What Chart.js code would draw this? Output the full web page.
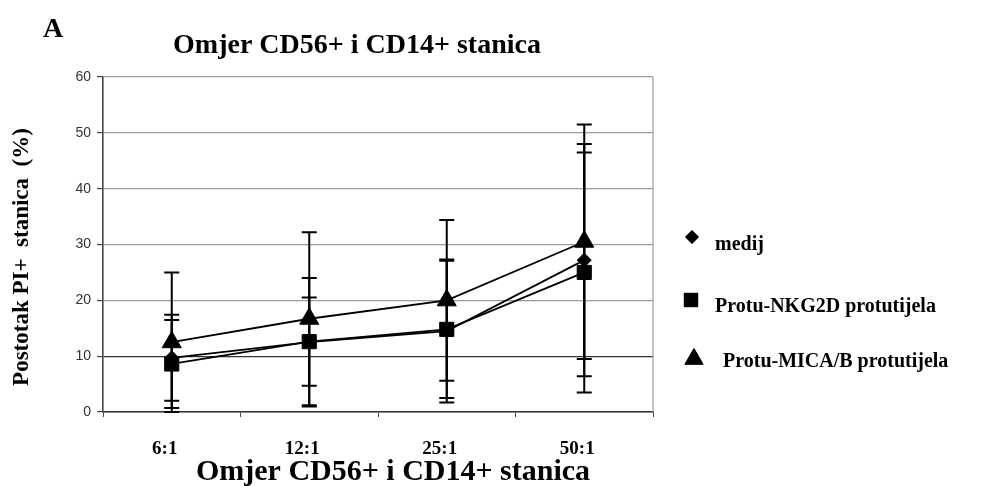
<!DOCTYPE html>
<html>
<head>
<meta charset="utf-8">
<script src="https://cdn.jsdelivr.net/npm/chart.js@4.4.1/dist/chart.umd.min.js"></script>
<style>
  body { margin: 0; background: #fff; }
  canvas { display: block; }
</style>
</head>
<body>
<canvas id="chart" width="981" height="486"></canvas>
<script>
// ratios on the x axis
const categories = ['6:1', '12:1', '25:1', '50:1'];

// mean % of PI+ cells and the error bar size, per series
const medij = [9.7, 12.5, 14.5, 27.2];
const medijErr = [7.7, 11.5, 12.8, 20.8];
const nkg2d = [8.6, 12.6, 14.8, 25.0];
const nkg2dErr = [7.9, 7.9, 12.3, 21.5];
const mica = [12.5, 16.7, 20.0, 30.5];
const micaErr = [12.5, 15.5, 14.4, 21.0];

const yTicks = [0, 10, 20, 30, 40, 50, 60];

const serif = '"Liberation Serif", "Times New Roman", serif';

// error bars (symmetric, with caps)
const errorBars = {
    id: 'errorBars',
    afterDatasetsDraw(chart) {
        const ctx = chart.ctx;
        const x = chart.scales.x, y = chart.scales.y;
        ctx.save();
        ctx.strokeStyle = '#000';
        ctx.lineWidth = 2;
        chart.data.datasets.forEach(ds => {
            ds.data.forEach((v, i) => {
                const px = x.getPixelForValue(i);
                const top = y.getPixelForValue(v + ds.errors[i]);
                const bot = y.getPixelForValue(v - ds.errors[i]);
                ctx.beginPath();
                ctx.moveTo(px, top); ctx.lineTo(px, bot);
                ctx.moveTo(px - 7.5, top); ctx.lineTo(px + 7.5, top);
                ctx.moveTo(px - 7.5, bot); ctx.lineTo(px + 7.5, bot);
                ctx.stroke();
            });
        });
        ctx.restore();
    }
};

// titles and the legend to the right of the plot
const extras = {
    id: 'extras',
    afterDraw(chart) {
        const ctx = chart.ctx;
        const area = chart.chartArea;
        ctx.save();
        ctx.fillStyle = '#000';

        // right border of the plot
        ctx.strokeStyle = '#999';
        ctx.lineWidth = 1.2;
        ctx.beginPath();
        ctx.moveTo(area.right, area.top);
        ctx.lineTo(area.right, area.bottom);
        ctx.stroke();

        ctx.textBaseline = 'alphabetic';
        ctx.textAlign = 'left';
        ctx.font = 'bold 28px ' + serif;
        ctx.fillText('A', 43, 37);

        ctx.textAlign = 'center';
        ctx.fillText('Omjer CD56+ i CD14+ stanica', 357, 53);

        ctx.font = 'bold 30px ' + serif;
        ctx.fillText('Omjer CD56+ i CD14+ stanica', 393, 480);

        ctx.save();
        ctx.translate(22, 257);
        ctx.rotate(-Math.PI / 2);
        ctx.textBaseline = 'middle';
        ctx.font = 'bold 23px ' + serif;
        ctx.fillText('Postotak PI+  stanica  (%)', 0, 0);
        ctx.restore();

        // legend
        const rows = [
            { ds: 0, mx: 692, my: 237, tx: 715, ty: 250 },
            { ds: 1, mx: 691, my: 300, tx: 715, ty: 312 },
            { ds: 2, mx: 694, my: 359, tx: 723, ty: 367 }
        ];
        ctx.textAlign = 'left';
        ctx.font = 'bold 20px ' + serif;
        rows.forEach(r => {
            const ds = chart.data.datasets[r.ds];
            ctx.fillStyle = '#000';
            ctx.strokeStyle = '#000';
            ctx.lineWidth = 1;
            Chart.helpers.drawPoint(ctx, {
                pointStyle: ds.pointStyle,
                radius: ds.legendRadius,
                borderWidth: 1,
                rotation: 0
            }, r.mx, r.my);
            ctx.fill();
            ctx.fillText(ds.label, r.tx, r.ty);
        });
        ctx.restore();
    }
};

const lineStyle = {
    borderColor: '#000',
    borderWidth: 1.8,
    pointBackgroundColor: '#000',
    pointBorderColor: '#000',
    pointBorderWidth: 1,
    tension: 0,
    fill: false
};

new Chart(document.getElementById('chart'), {
    type: 'line',
    data: {
        labels: categories,
        datasets: [
            { ...lineStyle, label: 'medij', data: medij, errors: medijErr,
              pointStyle: 'rectRot', pointRadius: 7, legendRadius: 6.5, order: 3 },
            { ...lineStyle, label: 'Protu-NKG2D protutijela', data: nkg2d, errors: nkg2dErr,
              pointStyle: 'rect', pointRadius: 10, legendRadius: 9.5, order: 2 },
            { ...lineStyle, label: 'Protu-MICA/B protutijela', data: mica, errors: micaErr,
              pointStyle: 'triangle', pointRadius: 11, legendRadius: 10.5, order: 1 }
        ]
    },
    options: {
        responsive: false,
        animation: false,
        devicePixelRatio: 1,
        layout: { padding: { top: 77, right: 328, left: 0, bottom: 0 } },
        plugins: {
            legend: { display: false },
            tooltip: { enabled: false },
            title: { display: false }
        },
        scales: {
            x: {
                offset: true,
                grid: {
                    offset: true,
                    drawOnChartArea: false,
                    tickLength: 5,
                    tickColor: '#444',
                    color: '#444'
                },
                border: { color: '#333', width: 1.6 },
                ticks: {
                    font: { family: serif, size: 19, weight: 'bold' },
                    color: '#000',
                    padding: 21,
                    labelOffset: -7,
                    maxRotation: 0
                },
                afterFit(scale) { scale.height = 74; }
            },
            y: {
                min: 0,
                max: 60,
                afterBuildTicks(scale) { scale.ticks = yTicks.map(v => ({ value: v })); },
                grid: {
                    color: ctx => ctx.tick && ctx.tick.value === 10 ? '#333' : '#9a9a9a',
                    lineWidth: 1.2,
                    tickLength: 6,
                    tickColor: '#444'
                },
                border: { color: '#444', width: 1.6 },
                ticks: {
                    font: { family: '"Liberation Sans", Arial, sans-serif', size: 14 },
                    color: '#333',
                    padding: 6
                },
                afterFit(scale) { scale.width = 103; }
            }
        }
    },
    plugins: [errorBars, extras]
});
</script>
</body>
</html>
